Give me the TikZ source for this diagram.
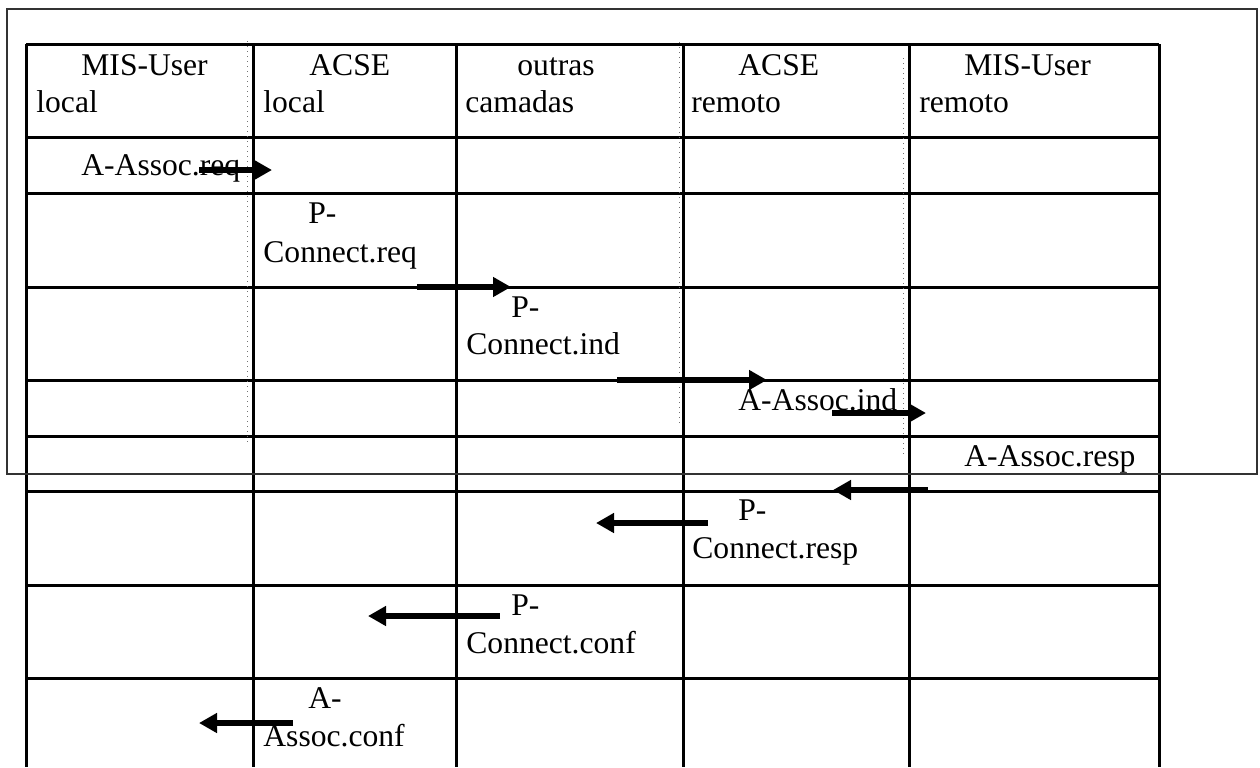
\documentclass[tikz,border=0pt]{standalone}
\usepackage{fontspec}
\setmainfont{Liberation Serif}
\usetikzlibrary{arrows.meta}
\begin{document}
\begin{tikzpicture}[x=0.5pt,y=-0.5pt,
  grid/.style={line width=1.5pt, black},
  frame/.style={line width=1pt, draw=black!80},
  dots/.style={line width=0.5pt, dotted, black!55},
  msg/.style={line width=3pt, -{Triangle[length=9pt,width=9.5pt]}},
  lbl/.style={anchor=base west, inner sep=0pt, font=\fontsize{15.8}{19}\selectfont}
]
\useasboundingbox (0,0) rectangle (1260,767);
% table grid
\foreach \y in {44,137,193,287,380,436,491,585,678}
  \draw[grid] (26,\y) -- (1159,\y);
\foreach \x in {26,253,456,683,909,1159}
  \draw[grid] (\x,44) -- (\x,767);
% outer frame
\draw[frame] (7,9) rectangle (1257,474);
% dotted guides
\draw[dots] (247,41) -- (247,442);
\draw[dots] (679,42) -- (679,426);
\draw[dots] (903,58) -- (903,457);
% header
\node[lbl] (h1a) at (81,75) {MIS-User};
\node[lbl] (h1b) at (36,112) {local};
\node[lbl] (h2a) at (309,75) {ACSE};
\node[lbl] (h2b) at (263,112) {local};
\node[lbl] (h3a) at (517,75) {outras};
\node[lbl] (h3b) at (465,112) {camadas};
\node[lbl] (h4a) at (738,75) {ACSE};
\node[lbl] (h4b) at (691,112) {remoto};
\node[lbl] (h5a) at (964,75) {MIS-User};
\node[lbl] (h5b) at (919,112) {remoto};
% messages
\node[lbl] (m1) at (81,175) {A-Assoc.req};
\node[lbl] (m2a) at (308,223) {P-};
\node[lbl] (m2b) at (263,262) {Connect.req};
\node[lbl] (m3a) at (511,317) {P-};
\node[lbl] (m3b) at (466,354) {Connect.ind};
\node[lbl] (m4) at (738,410) {A-Assoc.ind};
\node[lbl] (m5) at (964,466) {A-Assoc.resp};
\node[lbl] (m6a) at (738,520) {P-};
\node[lbl] (m6b) at (692,558) {Connect.resp};
\node[lbl] (m7a) at (511,615) {P-};
\node[lbl] (m7b) at (466,653) {Connect.conf};
\node[lbl] (m8a) at (308,708) {A-};
\node[lbl] (m8b) at (263,746) {Assoc.conf};
% arrow end points
\coordinate (a1s) at (199,170);  \coordinate (a1e) at (272,170);
\coordinate (a2s) at (417,287);  \coordinate (a2e) at (511,287);
\coordinate (a3s) at (617,380);  \coordinate (a3e) at (767,380);
\coordinate (a4s) at (832,413);  \coordinate (a4e) at (926,413);
\coordinate (a5s) at (928,490);  \coordinate (a5e) at (833,490);
\coordinate (a6s) at (708,523);  \coordinate (a6e) at (596,523);
\coordinate (a7s) at (500,616);  \coordinate (a7e) at (368,616);
\coordinate (a8s) at (293,723);  \coordinate (a8e) at (199,723);
\foreach \i in {1,...,8}
  \draw[msg] (a\i s) -- (a\i e);
\end{tikzpicture}
\end{document}
